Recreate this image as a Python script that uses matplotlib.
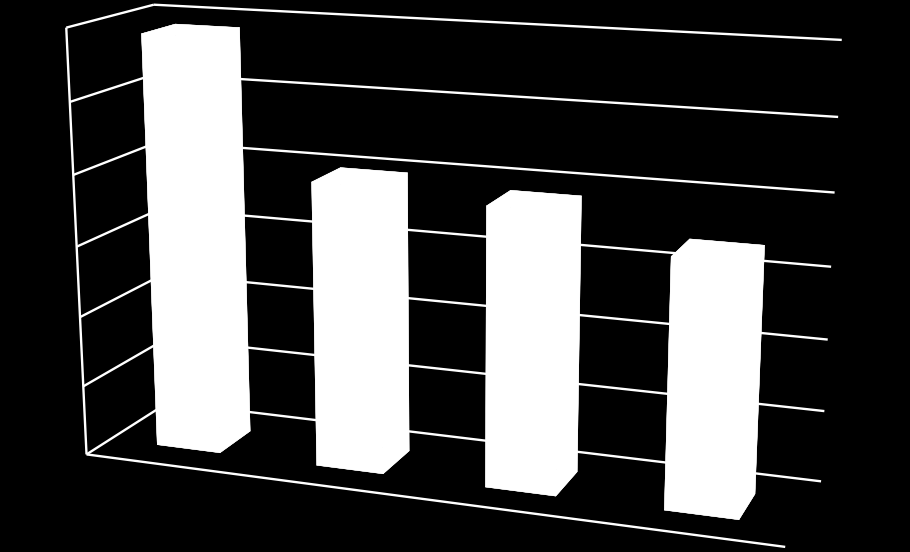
import numpy as np
import matplotlib
matplotlib.use('Agg')
import matplotlib.pyplot as plt
from mpl_toolkits.mplot3d.art3d import Line3DCollection

# Chart data
categories = [0, 1, 2, 3]
values = [5.86, 4.0, 3.87, 3.41]
gridlines = [0, 1, 2, 3, 4, 5, 6]

# Chart box and bar shape, in data units
x_max = 4
z_max = 6
bar_width = 0.40
bar_front = 0.285
bar_depth = 0.4

# Where known corners of the box land in the picture, used to fit the camera
cam_world = [(0, 0, 0), (0, 0, 1), (0, 0, 2), (0, 0, 3), (0, 0, 4), (0, 0, 5), (0, 0, 6),
             (4, 1, 0), (4, 1, 1), (4, 1, 2), (4, 1, 3), (4, 1, 4), (4, 1, 5), (4, 1, 6),
             (0, 1, 6), (0, 1, 0), (4, 0, 0)]
cam_pixel = [(86, 456), (83, 386), (80, 316), (77, 246), (74, 175), (70, 102), (66, 28),
             (821, 481), (825, 411), (828, 340), (830, 267), (834, 192), (838, 117), (843, 40),
             (153, 5), (169, 402), (785, 547)]


def fit_camera(world, pixel):
    # Direct linear transform, world (x, y, z) to picture pixels
    rows = []
    for (x, y, z), (u, v) in zip(world, pixel):
        rows.append([x, y, z, 1, 0, 0, 0, 0, -u * x, -u * y, -u * z, -u])
        rows.append([0, 0, 0, 0, x, y, z, 1, -v * x, -v * y, -v * z, -v])
    p = np.linalg.svd(np.array(rows, dtype=float))[2][-1].reshape(3, 4)
    # x, y, a depth row so that the matrix can be inverted, w
    return np.array([p[0], p[1], [0, 1, 0, 0], p[2]])


M = fit_camera(cam_world, cam_pixel)

fig = plt.figure(figsize=(9.1, 5.52), dpi=100, facecolor='black')
# 3d axes stay square, so take a square that runs over the top and bottom
ax = fig.add_axes([0, -179 / 552, 1, 910 / 552], projection='3d')
ax.set_axis_off()
ax.set_facecolor('black')
ax.computed_zorder = False
ax.get_proj = lambda: M

# Gridlines on the back wall and the left wall, then the box edges
segments = []
for g in gridlines:
    segments.append([(0, 1, g), (x_max, 1, g)])
    segments.append([(0, 0, g), (0, 1, g)])
segments.append([(0, 0, 0), (0, 0, z_max)])
segments.append([(0, 0, 0), (x_max, 0, 0)])
ax.add_collection3d(Line3DCollection(segments, colors='white', linewidths=1.7, zorder=1.5))

# Bars
for c, v in zip(categories, values):
    ax.bar3d(c + 0.5 - bar_width / 2, bar_front, 0, bar_width, bar_depth, v,
             color='white', shade=False, edgecolor='white', linewidth=0.3, zorder=2)

ax.viewLim.intervalx = (0, 910)
ax.viewLim.intervaly = (731, -179)

fig.savefig('out.png', dpi=100)
